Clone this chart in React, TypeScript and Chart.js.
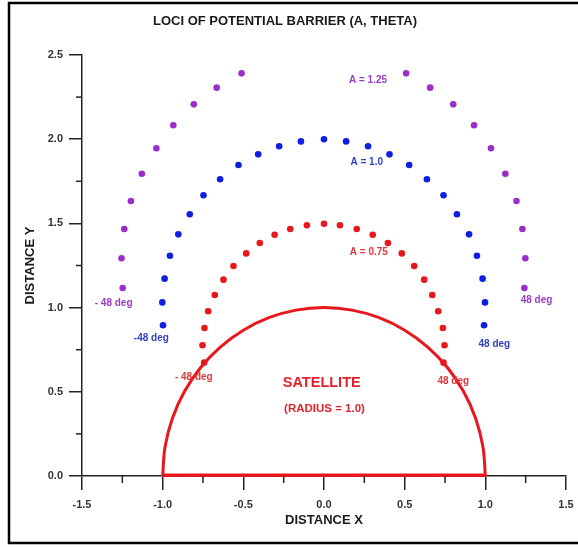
import React, { useEffect, useRef } from 'react';
import { Chart, registerables } from 'chart.js';

Chart.register(...registerables);

// ---- data ----
const purpleX = [-1.248, -1.255, -1.238, -1.197, -1.129, -1.039, -0.934, -0.807, -0.665, -0.511, 0.509, 0.658, 0.801, 0.930, 1.035, 1.124, 1.193, 1.230, 1.248, 1.242];
const purpleY = [1.116, 1.293, 1.467, 1.633, 1.795, 1.946, 2.083, 2.207, 2.306, 2.391, 2.391, 2.306, 2.207, 2.083, 1.946, 1.795, 1.633, 1.467, 1.293, 1.116];

const blueX = [-0.998, -1.002, -0.988, -0.955, -0.903, -0.832, -0.747, -0.644, -0.530, -0.408, -0.278, -0.143, 0.000, 0.137, 0.273, 0.406, 0.528, 0.638, 0.741, 0.824, 0.899, 0.948, 0.983, 0.998, 0.992];
const blueY = [0.895, 1.031, 1.172, 1.308, 1.435, 1.554, 1.667, 1.762, 1.847, 1.910, 1.958, 1.987, 2.000, 1.987, 1.958, 1.910, 1.847, 1.762, 1.667, 1.554, 1.435, 1.308, 1.172, 1.031, 0.895];

const redX = [-0.743, -0.753, -0.741, -0.718, -0.677, -0.623, -0.561, -0.482, -0.398, -0.306, -0.209, -0.106, 0.000, 0.099, 0.203, 0.302, 0.396, 0.482, 0.559, 0.621, 0.671, 0.708, 0.737, 0.747, 0.741];
const redY = [0.673, 0.776, 0.879, 0.978, 1.075, 1.166, 1.247, 1.322, 1.384, 1.433, 1.467, 1.489, 1.498, 1.489, 1.467, 1.433, 1.384, 1.322, 1.247, 1.166, 1.075, 0.978, 0.879, 0.776, 0.673];

// satellite outline (radius 1.0) and its base
const satArcX = [1.000, 0.985, 0.940, 0.866, 0.766, 0.643, 0.500, 0.342, 0.174, 0.000, -0.174, -0.342, -0.500, -0.643, -0.766, -0.866, -0.940, -0.985, -1.000];
const satArcY = [0.000, 0.174, 0.342, 0.500, 0.643, 0.766, 0.866, 0.940, 0.985, 1.000, 0.985, 0.940, 0.866, 0.766, 0.643, 0.500, 0.342, 0.174, 0.000];
const satBaseX = [-1.000, 1.000];
const satBaseY = [0.004, 0.004];

const xMinorTicks = [-1.25, -0.75, -0.25, 0.25, 0.75, 1.25];
const yMinorTicks = [0.25, 0.75, 1.25, 1.75, 2.25];

const noteTexts = ['A = 1.25', 'A = 1.0', 'A = 0.75', '- 48 deg', '48 deg', '-48 deg', '48 deg', '- 48 deg', '48 deg'];
const noteX = [0.273, 0.265, 0.278, -1.304, 1.317, -1.070, 1.056, -0.807, 0.801];
const noteY = [2.352, 1.863, 1.328, 1.026, 1.041, 0.818, 0.784, 0.586, 0.564];
const noteSeries = ['p', 'b', 'r', 'p', 'p', 'b', 'b', 'r', 'r'];

const satTexts = ['SATELLITE', '(RADIUS = 1.0)'];
const satTextX = [-0.014, 0.003];
const satTextY = [0.550, 0.396];

const TITLE = 'LOCI OF POTENTIAL BARRIER (A, THETA)';
const X_TITLE = 'DISTANCE X';
const Y_TITLE = 'DISTANCE Y';

// ---- styles ----
const FONT = '"Liberation Sans", Arial, sans-serif';
const PURPLE = '#9a2ec8';
const BLUE = '#0d1fe0';
const RED = '#e8171c';
const TEXT_COL: Record<string, string> = { p: '#9b3cc6', b: '#3042c0', r: '#e0383a' };
const AXIS = '#222222';

const toPts = (xs: number[], ys: number[]) => xs.map((x, i) => ({ x, y: ys[i] }));

const decor = {
  id: 'decor',
  beforeDraw(chart: any) {
    const ctx = chart.ctx;
    ctx.save();
    ctx.fillStyle = '#ffffff';
    ctx.fillRect(0, 0, chart.width, chart.height);
    ctx.strokeStyle = '#000000';
    ctx.lineWidth = 2.5;
    ctx.beginPath();
    ctx.moveTo(chart.width + 2, 3);
    ctx.lineTo(9, 3);
    ctx.lineTo(9, 543);
    ctx.lineTo(chart.width + 2, 543);
    ctx.stroke();
    ctx.restore();
  },
  afterDraw(chart: any) {
    const ctx = chart.ctx;
    const xs = chart.scales.x;
    const ys = chart.scales.y;
    const area = chart.chartArea;
    ctx.save();
    // minor ticks
    ctx.strokeStyle = AXIS;
    ctx.lineWidth = 1.5;
    xMinorTicks.forEach((v) => {
      const px = xs.getPixelForValue(v);
      ctx.beginPath();
      ctx.moveTo(px, area.bottom);
      ctx.lineTo(px, area.bottom + 7);
      ctx.stroke();
    });
    yMinorTicks.forEach((v) => {
      const py = ys.getPixelForValue(v);
      ctx.beginPath();
      ctx.moveTo(area.left, py);
      ctx.lineTo(area.left - 6, py);
      ctx.stroke();
    });
    // title
    ctx.fillStyle = '#1a1a1a';
    ctx.textAlign = 'center';
    ctx.textBaseline = 'middle';
    ctx.font = `bold 13px ${FONT}`;
    ctx.fillText(TITLE, 285, 21);
    // axis titles
    ctx.font = `bold 13px ${FONT}`;
    ctx.fillText(X_TITLE, xs.getPixelForValue(0), 520);
    ctx.save();
    ctx.translate(30, (area.top + area.bottom) / 2);
    ctx.rotate(-Math.PI / 2);
    ctx.fillText(Y_TITLE, 0, 0);
    ctx.restore();
    // notes
    ctx.font = `bold 10px ${FONT}`;
    noteTexts.forEach((t, i) => {
      ctx.fillStyle = TEXT_COL[noteSeries[i]];
      ctx.fillText(t, xs.getPixelForValue(noteX[i]), ys.getPixelForValue(noteY[i]));
    });
    ctx.fillStyle = '#e2222a';
    ctx.font = `bold 14.5px ${FONT}`;
    ctx.fillText(satTexts[0], xs.getPixelForValue(satTextX[0]), ys.getPixelForValue(satTextY[0]));
    ctx.font = `bold 11.5px ${FONT}`;
    ctx.fillText(satTexts[1], xs.getPixelForValue(satTextX[1]), ys.getPixelForValue(satTextY[1]));
    ctx.restore();
  },
};

export default function App() {
  const ref = useRef<HTMLCanvasElement | null>(null);
  useEffect(() => {
    if (!ref.current) return;
    const dot = (color: string) => ({
      showLine: false,
      pointRadius: 3.3,
      pointBackgroundColor: color,
      pointBorderColor: color,
      pointBorderWidth: 0,
      backgroundColor: color,
      borderColor: color,
    });
    const chart = new Chart(ref.current, {
      type: 'scatter',
      data: {
        datasets: [
          {
            label: 'Satellite',
            data: toPts(satArcX, satArcY),
            showLine: true,
            borderColor: RED,
            borderWidth: 3,
            pointRadius: 0,
            tension: 0.4,
            clip: false,
          } as any,
          {
            label: 'Satellite base',
            data: toPts(satBaseX, satBaseY),
            showLine: true,
            borderColor: RED,
            borderWidth: 3.5,
            pointRadius: 0,
            tension: 0,
            clip: false,
          } as any,
          { label: 'A = 0.75', data: toPts(redX, redY), ...dot(RED) },
          { label: 'A = 1.0', data: toPts(blueX, blueY), ...dot(BLUE) },
          { label: 'A = 1.25', data: toPts(purpleX, purpleY), ...dot(PURPLE) },
        ],
      },
      options: {
        responsive: false,
        animation: false,
        events: [],
        layout: { padding: { left: 0, top: 55, right: 12, bottom: 0 } },
        plugins: {
          legend: { display: false },
          tooltip: { enabled: false },
          title: { display: false },
        },
        scales: {
          x: {
            type: 'linear',
            min: -1.5,
            max: 1.5,
            ticks: {
              stepSize: 0.5,
              autoSkip: false,
              maxRotation: 0,
              padding: 8,
              color: '#333333',
              font: { family: FONT, size: 11, weight: 'bold' },
              callback: (v: any) => Number(v).toFixed(1),
            },
            grid: { drawOnChartArea: false, drawTicks: true, tickLength: 14, color: AXIS, lineWidth: 1.5 },
            border: { display: true, color: AXIS, width: 1.5 },
            afterFit: (s: any) => { s.height = 71; s.paddingLeft = 0; s.paddingRight = 0; },
          },
          y: {
            type: 'linear',
            min: 0,
            max: 2.5,
            ticks: {
              stepSize: 0.5,
              autoSkip: false,
              padding: 6,
              color: '#333333',
              font: { family: FONT, size: 11, weight: 'bold' },
              callback: (v: any) => Number(v).toFixed(1),
            },
            grid: { drawOnChartArea: false, drawTicks: true, tickLength: 13, color: AXIS, lineWidth: 1.5 },
            border: { display: true, color: AXIS, width: 1.5 },
            afterFit: (s: any) => { s.width = 82; s.paddingTop = 0; s.paddingBottom = 0; },
          },
        },
      } as any,
      plugins: [decor],
    });
    return () => chart.destroy();
  }, []);
  return (
    <div style={{ position: 'fixed', left: 0, top: 0, width: 578, height: 547 }}>
      <canvas ref={ref} width={578} height={547} style={{ display: 'block', width: 578, height: 547 }} />
    </div>
  );
}
